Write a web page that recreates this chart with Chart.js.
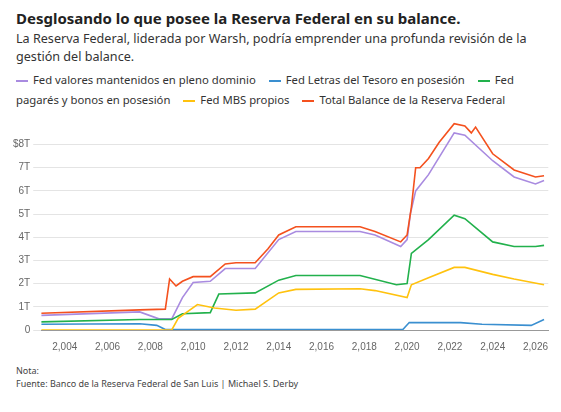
<!DOCTYPE html>
<html><head><meta charset="utf-8">
<script src="https://cdn.jsdelivr.net/npm/chart.js@4"></script>
<style>
body{margin:0;font-family:"Noto Sans",sans-serif;color:#222;background:#fff}
#wrap{padding:8px 10px 0 16px;width:535px}
h1{font-size:15px;margin:0 0 2px;font-weight:700}
.sub{font-size:12.6px;line-height:18px;color:#333}
.leg{font-size:11.3px;line-height:20px;color:#333;margin-top:4px}
.leg span{margin-right:10px}
.leg i{display:inline-block;width:12px;height:2px;vertical-align:middle;margin-right:5px}
#box{position:relative;height:246px;margin-left:-6px;margin-top:0}
.foot{font-size:9px;color:#444;line-height:13px;margin-top:8px}
</style></head><body>
<div id="wrap">
<h1>Desglosando lo que posee la Reserva Federal en su balance.</h1>
<div class="sub">La Reserva Federal, liderada por Warsh, podría emprender una profunda revisión de la gestión del balance.</div>
<div class="leg" id="leg"></div>
<div id="box"><canvas id="c"></canvas></div>
<div class="foot">Nota:<br>Fuente: Banco de la Reserva Federal de San Luis | Michael S. Derby</div>
</div>
<script>
var names = ["Fed valores mantenidos en pleno dominio", "Fed Letras del Tesoro en posesión", "Fed pagarés y bonos en posesión", "Fed MBS propios", "Total Balance de la Reserva Federal"];
var colors = ["#a98be0", "#3a8fd0", "#22b14c", "#ffc20e", "#f4511e"];

var heldX = [2002.9,2007.5,2008.4,2009.0,2009.5,2010,2010.8,2011.5,2012.9,2014,2014.8,2017.8,2018.5,2019.7,2020.0,2020.15,2020.4,2021,2022.2,2022.7,2024,2025,2026,2026.4];
var heldY = [0.63,0.78,0.48,0.48,1.4,2.05,2.1,2.65,2.65,3.9,4.25,4.25,4.1,3.6,3.9,5.0,6.0,6.7,8.5,8.4,7.3,6.6,6.3,6.45];

var billsX = [2002.9,2007.5,2008.3,2008.7,2019.8,2020.1,2022.5,2023.5,2025.8,2026.4];
var billsY = [0.25,0.27,0.2,0.02,0.02,0.32,0.32,0.25,0.2,0.45];

var notesX = [2002.9,2007.5,2009.0,2009.5,2010.8,2011.2,2012.9,2014,2014.8,2017.8,2019.5,2020.0,2020.2,2021,2022.2,2022.7,2024,2025,2026,2026.4];
var notesY = [0.35,0.45,0.45,0.7,0.75,1.55,1.6,2.15,2.35,2.35,1.95,2.0,3.3,3.9,4.95,4.8,3.8,3.6,3.6,3.65];

var mbsX = [2002.9,2009.0,2009.3,2010.2,2011,2012,2012.9,2014,2014.8,2017.8,2018.5,2020.0,2020.2,2021,2022.2,2022.7,2024,2025,2026.4];
var mbsY = [0,0,0.5,1.1,0.95,0.85,0.9,1.6,1.75,1.78,1.7,1.4,1.95,2.25,2.7,2.7,2.4,2.2,1.95];

var totalX = [2002.9,2007.5,2008.7,2008.9,2009.2,2009.5,2010,2010.8,2011.5,2012,2012.9,2013.5,2014,2014.8,2017.8,2018.5,2019.7,2020.0,2020.2,2020.4,2020.6,2021,2021.5,2022.2,2022.7,2023.0,2023.2,2024,2025,2026,2026.4];
var totalY = [0.72,0.87,0.9,2.2,1.9,2.1,2.3,2.3,2.85,2.9,2.9,3.5,4.1,4.45,4.45,4.25,3.8,4.1,5.3,7.0,7.0,7.4,8.1,8.9,8.8,8.5,8.75,7.6,6.9,6.6,6.65];

var yTicks = ["0","1T","2T","3T","4T","5T","6T","7T","$8T"];
var xTicks = [2004,2006,2008,2010,2012,2014,2016,2018,2020,2022,2024,2026];

function pts(xs, ys) { return xs.map(function(x, i) { return {x: x, y: ys[i]}; }); }
var series = [pts(heldX, heldY), pts(billsX, billsY), pts(notesX, notesY), pts(mbsX, mbsY), pts(totalX, totalY)];

document.getElementById("leg").innerHTML = names.map(function(n, i) {
  return '<span><i style="background:' + colors[i] + '"></i>' + n + '</span>';
}).join(" ");

var ds = series.map(function(d, i) {
  return {label: names[i], data: d, borderColor: colors[i], borderWidth: 1.6, pointRadius: 0, tension: 0};
}).reverse();

new Chart("c", {
  type: "line",
  data: {datasets: ds},
  options: {
    responsive: true, maintainAspectRatio: false, animation: false,
    plugins: {legend: {display: false}, tooltip: {enabled: false}},
    scales: {
      x: {type: "linear", min: 2002.9, max: 2026.6,
          grid: {display: false}, border: {color: "#999"},
          afterBuildTicks: function(a) { a.ticks = xTicks.map(function(v) { return {value: v}; }); },
          ticks: {color: "#666", font: {size: 10}, maxRotation: 0, autoSkip: false}},
      y: {min: 0, max: 9.1, grid: {color: "#e4e4e4"}, border: {display: false},
          afterBuildTicks: function(a) { a.ticks = yTicks.map(function(t, i) { return {value: i}; }); },
          ticks: {color: "#666", font: {size: 10}, callback: function(v) { return yTicks[v]; }}}
    }
  }
});
</script>
</body></html>
